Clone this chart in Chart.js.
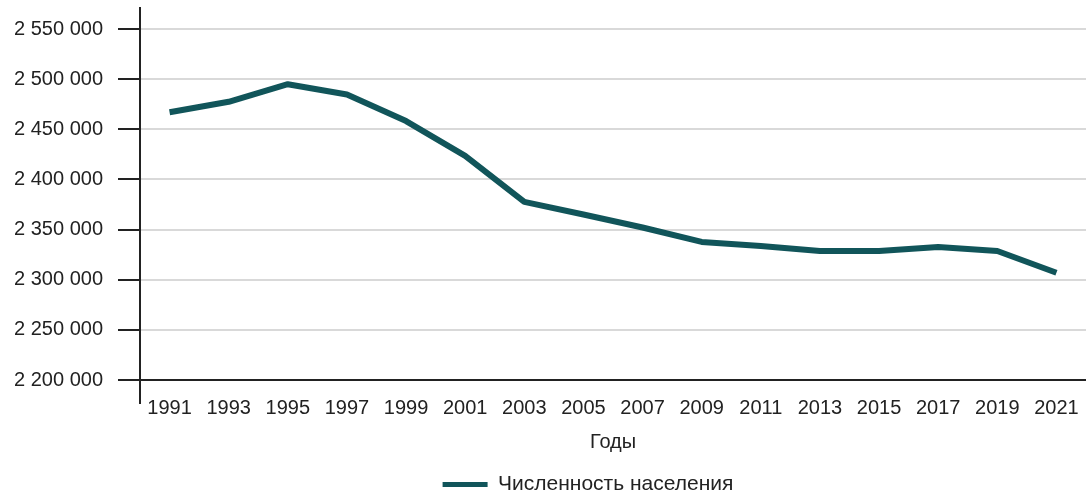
<!DOCTYPE html>
<html>
<head>
<meta charset="utf-8">
<script src="https://cdn.jsdelivr.net/npm/chart.js@4/dist/chart.umd.min.js"></script>
<style>
  html, body { margin: 0; padding: 0; background: #fff; }
  #wrap { width: 1086px; height: 493px; }
</style>
</head>
<body>
<div id="wrap"><canvas id="chart-line" width="1086" height="493"></canvas></div>
<script>
const years = ['1991','1993','1995','1997','1999','2001','2003','2005','2007','2009','2011','2013','2015','2017','2019','2021']
const population = [2467000, 2477500, 2495000, 2484700, 2458200, 2423600, 2377600, 2365000, 2352100, 2337700, 2333700, 2328600, 2328600, 2332700, 2328600, 2307000]
const yTicks = [2200000, 2250000, 2300000, 2350000, 2400000, 2450000, 2500000, 2550000]
const yMin = 2200000
const yMax = 2571000

const lineColor = '#11555a'
const ink = '#222222'
const font = 'Liberation Sans, Arial, Helvetica, sans-serif'

const fmt = v => String(v).replace(/\B(?=(\d{3})+(?!\d))/g, ' ')

// legend sits a bit right of the page centre in the original
const legendShift = {
	id: 'legendShift',
	afterLayout: chart => { chart.legend.left += 80 }
}

const mainchartLine = document.getElementById('chart-line')

let chartLine = new Chart(mainchartLine, {
	type: 'line',
	data: {
		labels: years,
		datasets: [{
			label: 'Численность населения',
			data: population,
			borderColor: lineColor,
			backgroundColor: lineColor,
			borderWidth: 6,
			borderJoinStyle: 'round',
			pointRadius: 0,
			tension: 0
		}]
	},
	options: {
		responsive: false,
		animation: false,
		events: [],
		layout: {
			padding: { top: 8, left: 10, right: 0, bottom: -12 }
		},
		scales: {
			x: {
				offset: true,
				grid: {
					offset: true,
					drawOnChartArea: false,
					tickLength: 24,
					lineWidth: 2,
					tickColor: ctx => ctx.index === 0 ? ink : 'rgba(0,0,0,0)'
				},
				border: { color: ink, width: 2 },
				ticks: {
					color: ink,
					padding: -8,
					maxRotation: 0,
					autoSkip: false,
					font: { family: font, size: 20 }
				},
				title: {
					display: true,
					text: 'Годы',
					color: ink,
					padding: { top: 18, bottom: 20 },
					font: { family: font, size: 20 }
				}
			},
			y: {
				min: yMin,
				max: yMax,
				afterFit: scale => {
					scale.width = 130
					scale.paddingTop = 0
					scale.paddingBottom = 0
				},
				afterBuildTicks: scale => { scale.ticks = yTicks.map(v => ({ value: v })) },
				grid: {
					color: '#d9d9d9',
					lineWidth: 2,
					tickLength: 22,
					tickColor: ink
				},
				border: { color: ink, width: 2 },
				ticks: {
					color: ink,
					padding: 15,
					font: { family: font, size: 20 },
					callback: v => fmt(v)
				}
			}
		},
		plugins: {
			legend: {
				position: 'bottom',
				labels: {
					color: ink,
					boxWidth: 45,
					boxHeight: 5,
					padding: 0,
					font: { family: font, size: 21, lineHeight: 1 },
					generateLabels: chart => Chart.defaults.plugins.legend.labels.generateLabels(chart).map(l => Object.assign(l, { lineWidth: 0 }))
				}
			},
			tooltip: { enabled: false }
		}
	},
	plugins: [legendShift]
})
</script>
</body>
</html>
